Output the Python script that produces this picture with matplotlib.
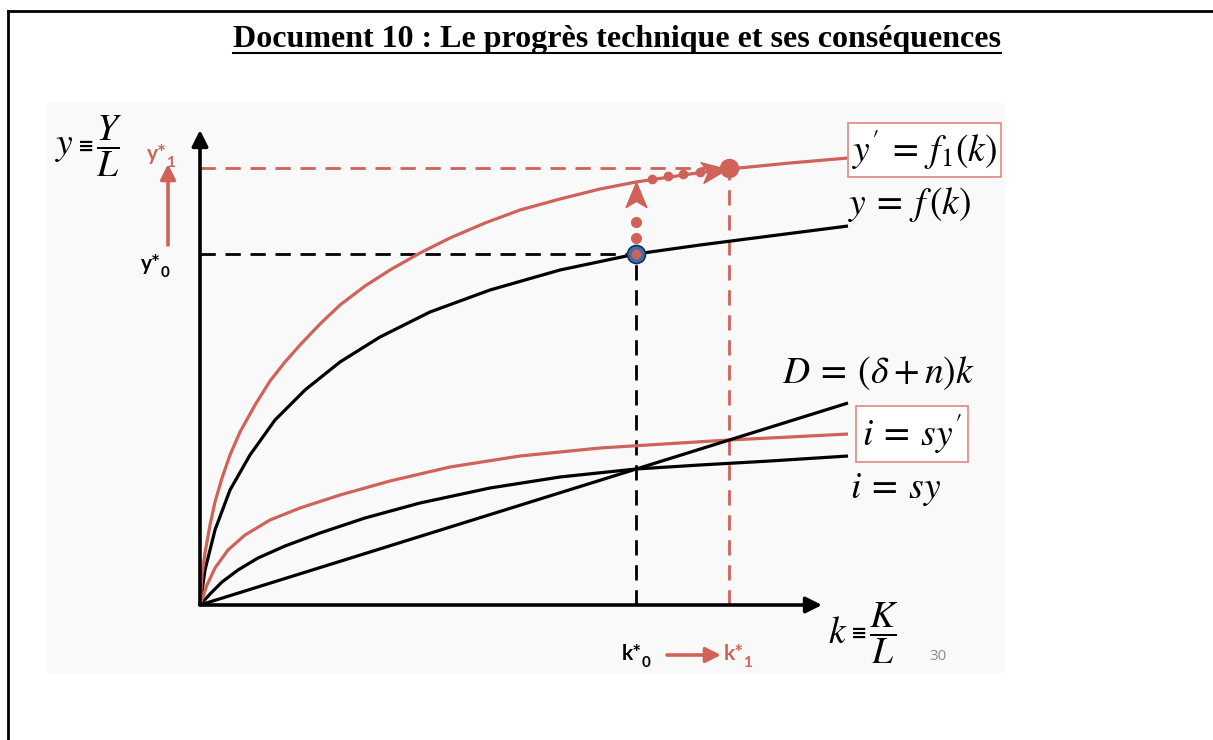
import matplotlib
matplotlib.use('Agg')
import matplotlib.pyplot as plt
from matplotlib.patches import Rectangle
from matplotlib.lines import Line2D
from matplotlib.markers import MarkerStyle
from matplotlib.path import Path
from matplotlib.transforms import Affine2D

plt.rcParams['mathtext.fontset'] = 'stix'

RED = '#cf6259'
BOXRED = '#e0918b'
BLUE = '#3d6fa6'
W, H = 1213, 740

# curves (k on x, y on y, same arbitrary units on both axes)
f_k = [0, 5, 15, 30, 50, 75, 105, 140, 180, 230, 290, 360, 436, 500, 570, 648]
f_y = [0, 35, 75, 115, 150, 185, 215, 243, 268, 293, 315, 335, 351, 360, 369, 379]

f1_k = [0, 2, 5, 10, 15, 22, 30, 40, 55, 70, 85, 100, 120, 140, 165, 190, 220, 250, 285,
        320, 360, 400, 436, 490, 529, 590, 648]
f1_y = [0, 30, 52, 80, 103, 127, 150, 173, 200, 224, 243, 260, 281, 300, 319, 335, 352, 367,
        382, 395, 406, 416, 423, 431, 436, 442, 447]

sy1_k = [0, 7, 15, 28, 45, 70, 100, 140, 190, 250, 320, 400, 480, 529, 590, 648]
sy1_y = [0, 20, 37, 55, 70, 85, 97, 110, 124, 138, 149, 157, 162, 165, 168, 171]

sy_k = [0, 10, 22, 38, 58, 85, 120, 165, 220, 290, 360, 436, 500, 570, 648]
sy_y = [0, 11, 23, 35, 47, 59, 72, 87, 102, 117, 128, 136, 140, 144, 149]

d_k = [0, 648]
d_y = [0, 202]

k0, k1 = 436, 529
y0, y1 = 351, 437

# dotted arrows (steady state moving up, then along f1)
up_dots_y = [367, 383]
up_head_y = 409
side_dots_k = [452, 468, 483, 500]
side_dots_y = [426, 429, 431, 433]
side_head = (513, 434)

fig = plt.figure(figsize=(W / 100, H / 100), dpi=100)

# slide background and page frame
fig.patches.append(Rectangle((47 / W, 1 - 672 / H), (1004 - 47) / W, (672 - 103) / H,
                             transform=fig.transFigure, color='#f9f9f9', zorder=-10))
fig.add_artist(Line2D([8 / W, 1], [1 - 11 / H] * 2, color='black', lw=2))
fig.add_artist(Line2D([8 / W] * 2, [0, 1 - 11 / H], color='black', lw=2))

title = fig.text(617 / W, 1 - 39 / H, 'Document 10 : Le progrès technique et ses conséquences',
                 family='Liberation Serif', weight='bold', size=23, ha='center', va='center')

ax = fig.add_axes([200 / W, 135 / H, 622 / W, 475 / H])
ax.set_xlim(0, 622)
ax.set_ylim(0, 475)
ax.axis('off')

# axes with arrows
arrow_kw = dict(arrowstyle='-|>,head_length=0.6,head_width=0.3', lw=2.6, color='black',
                shrinkA=0, shrinkB=0, mutation_scale=16)
ax.annotate('', xy=(622, 0), xytext=(0, 0), arrowprops=arrow_kw, annotation_clip=False)
ax.annotate('', xy=(0, 475), xytext=(0, 0), arrowprops=arrow_kw, annotation_clip=False)

# dashed guides
dash = (0, (5.5, 3.5))
ax.plot([0, k0], [y0, y0], color='black', lw=2, ls=dash, clip_on=False)
ax.plot([k0, k0], [0, y0], color='black', lw=2, ls=dash, clip_on=False)
ax.plot([0, k1], [y1, y1], color=RED, lw=2, ls=dash, clip_on=False)
ax.plot([k1, k1], [0, y1], color=RED, lw=2, ls=dash, clip_on=False)

# curves
line_kw = dict(lw=2.3, clip_on=False, solid_capstyle='butt', solid_joinstyle='round')
ax.plot(f_k, f_y, color='black', **line_kw)
ax.plot(f1_k, f1_y, color=RED, **line_kw)
ax.plot(sy_k, sy_y, color='black', **line_kw)
ax.plot(sy1_k, sy1_y, color=RED, **line_kw)
ax.plot(d_k, d_y, color='black', **line_kw)

# stealth arrow heads
stealth = Path([(1, 0), (-0.8, 0.75), (-0.35, 0), (-0.8, -0.75), (1, 0)],
               [Path.MOVETO, Path.LINETO, Path.LINETO, Path.LINETO, Path.CLOSEPOLY])
ax.plot([k0] * len(up_dots_y), up_dots_y, 'o', color=RED, ms=7, clip_on=False)
ax.plot([k0], [up_head_y], marker=MarkerStyle(stealth, transform=Affine2D().rotate_deg(90)),
        color=RED, ms=20, ls='none', clip_on=False)
ax.plot(side_dots_k, side_dots_y, 'o', color=RED, ms=6, clip_on=False)
ax.plot([side_head[0]], [side_head[1]], marker=MarkerStyle(stealth, transform=Affine2D().rotate_deg(8)),
        color=RED, ms=20, ls='none', clip_on=False)

# equilibrium points
ax.plot([k0], [y0], 'o', ms=13, mfc=BLUE, mec='#1d2f4f', mew=1.2, clip_on=False, zorder=5)
ax.plot([k0], [y0], 'o', ms=6, color=RED, clip_on=False, zorder=6)
ax.plot([k1], [y1], 'o', ms=13, color=RED, clip_on=False, zorder=5)

# curve labels
math_kw = dict(size=27, va='center', ha='left', annotation_clip=False)
ax.annotate("$y'\\:=\\:f_1(k)$", (652, 455), **math_kw,
            bbox=dict(boxstyle='square,pad=0.12', fc='white', ec=BOXRED, lw=1.3))
ax.annotate('$y\\:=\\:f\\,(k)$', (648, 400), **math_kw)
ax.annotate('$D\\:=\\:(\\delta + n)k$', (582, 232), **math_kw)
ax.annotate("$i\\:=\\:sy'$", (662, 171), **math_kw,
            bbox=dict(boxstyle='square,pad=0.15', fc='white', ec=BOXRED, lw=1.3))
ax.annotate('$i\\:=\\:sy$', (650, 115), **math_kw)


def definition(x, y, small, big):
    # "small ≡ BIG / L" drawn in pieces so the ≡ stays narrow
    ax.annotate('$%s$' % small, (x, y), **math_kw)
    ax.annotate('≡', (x + 31, y), size=14, weight='bold', family='DejaVu Sans',
                ha='center', va='center', annotation_clip=False)
    ax.annotate('$\\dfrac{%s}{L}$' % big, (x + 41, y), **math_kw)


definition(628, -28, 'k', 'K')
definition(-145, 459, 'y', 'Y')
ax.annotate('30', (738, -52), size=11, color='#8c8c8c', ha='center', va='center',
            family='Open Sans', annotation_clip=False)


def star_label(x, y, letter, sub, color):
    ax.annotate(letter + '*', (x, y), size=15, weight='bold', color=color, family='Lato',
                ha='left', va='baseline', annotation_clip=False)
    ax.annotate(sub, (x, y), xytext=(14, -5), textcoords='offset points', size=11,
                weight='bold', color=color, family='Lato', ha='left', va='baseline',
                annotation_clip=False)


star_label(-53, 445, 'y', '1', RED)
star_label(-59, 335, 'y', '0', 'black')
star_label(422, -55, 'k', '0', 'black')
star_label(524, -55, 'k', '1', RED)

red_arrow = dict(arrowstyle='-|>,head_length=0.5,head_width=0.25', lw=2.6, color=RED,
                 shrinkA=0, shrinkB=0, mutation_scale=18)
ax.annotate('', xy=(-32, 441), xytext=(-32, 360), arrowprops=red_arrow, annotation_clip=False)
ax.annotate('', xy=(521, -50), xytext=(467, -50), arrowprops=red_arrow, annotation_clip=False)

# underline the title
fig.canvas.draw()
bb = title.get_window_extent().transformed(fig.transFigure.inverted())
fig.add_artist(Line2D([bb.x0, bb.x1], [1 - 53 / H] * 2, color='black', lw=1.5))

fig.savefig('out.png', dpi=100)
